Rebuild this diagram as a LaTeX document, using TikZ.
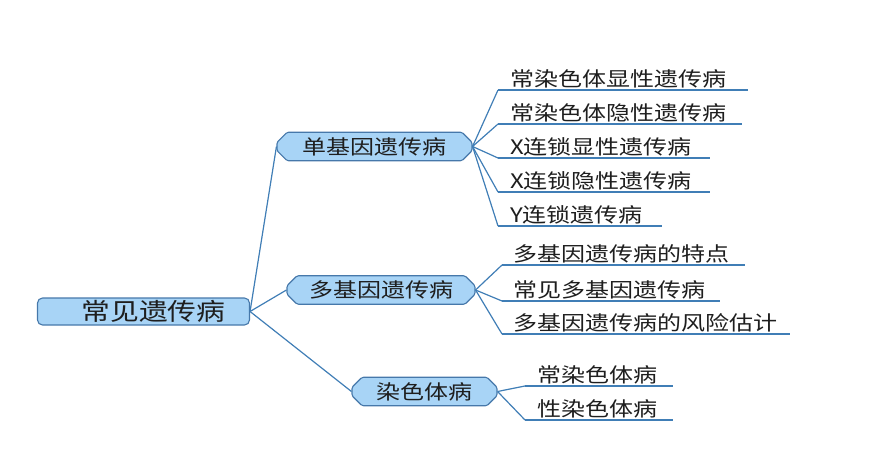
\documentclass[tikz,border=0pt]{standalone}
\usepackage{fontspec}
\newfontfamily\cjk[FakeStretch=1.2]{Noto Sans CJK SC}
\usetikzlibrary{shapes.misc}
\definecolor{boxfill}{RGB}{168,212,246}
\definecolor{boxline}{RGB}{70,120,170}
\definecolor{conn}{RGB}{64,126,182}
\definecolor{txt}{RGB}{30,30,30}
\tikzset{
  conn/.style={draw=conn, line width=1.2pt},
  rootbox/.style={draw=boxline, fill=boxfill, line width=1.1pt, rounded corners=5pt,
    inner sep=0pt, text=txt, font=\cjk\fontsize{24}{24}\selectfont},
  lonebox/.style={draw=boxline, fill=boxfill, line width=1.1pt, chamfered rectangle,
    chamfered rectangle xsep=5pt, chamfered rectangle ysep=5pt, rounded corners=1.5pt,
    inner sep=0pt, text=txt, font=\cjk\fontsize{20}{20}\selectfont},
  leaf/.style={anchor=south west, inner xsep=0pt, inner ysep=0pt, align=left,
    text height=17pt, text depth=3pt, text=txt, font=\cjk\fontsize{20}{20}\selectfont},
}
\begin{document}
\begin{tikzpicture}[x=1pt,y=-1pt]
\useasboundingbox (0,0) rectangle (873,468);

\node[rootbox, minimum width=212pt, minimum height=27pt] (root) at (143.5,311.5) {\hspace*{20pt}常见遗传病};

\node[lonebox, minimum width=195pt, minimum height=23pt] (dan) at (374.5,146.5) {单基因遗传病};
\node[lonebox, minimum width=188pt, minimum height=24pt] (duo) at (381,290) {多基因遗传病};
\node[lonebox, minimum width=145pt, minimum height=23pt] (ran) at (424.5,391.5) {染色体病};

\draw[conn] (root.east) -- (dan.west);
\draw[conn] (root.east) -- (duo.west);
\draw[conn] (root.east) -- (ran.west);

% leaves of 单基因
\node[leaf, text width=250pt] (a1) at (498,90) {\hspace*{12pt}常染色体显性遗传病};
\node[leaf, text width=244pt] (a2) at (498,124) {\hspace*{12pt}常染色体隐性遗传病};
\node[leaf, text width=212pt] (a3) at (498,158) {\hspace*{12pt}X连锁显性遗传病};
\node[leaf, text width=212pt] (a4) at (498,192) {\hspace*{12pt}X连锁隐性遗传病};
\node[leaf, text width=164pt] (a5) at (498,226) {\hspace*{12pt}Y连锁遗传病};
\foreach \n in {a1,a2,a3,a4,a5}{
  \draw[conn] (\n.south west) -- (\n.south east);
  \draw[conn] (dan.east) -- (\n.south west);
}

% leaves of 多基因
\node[leaf, text width=243pt] (b1) at (502,265) {\hspace*{11pt}多基因遗传病的特点};
\node[leaf, text width=218pt] (b2) at (502,301) {\hspace*{11pt}常见多基因遗传病};
\node[leaf, text width=288pt] (b3) at (502,334) {\hspace*{11pt}多基因遗传病的风险估计};
\foreach \n in {b1,b2,b3}{
  \draw[conn] (\n.south west) -- (\n.south east);
  \draw[conn] (duo.east) -- (\n.south west);
}

% leaves of 染色体病
\node[leaf, text width=148pt] (c1) at (525,386) {\hspace*{12pt}常染色体病};
\node[leaf, text width=148pt] (c2) at (525,420) {\hspace*{12pt}性染色体病};
\foreach \n in {c1,c2}{
  \draw[conn] (\n.south west) -- (\n.south east);
  \draw[conn] (ran.east) -- (\n.south west);
}
\end{tikzpicture}
\end{document}
